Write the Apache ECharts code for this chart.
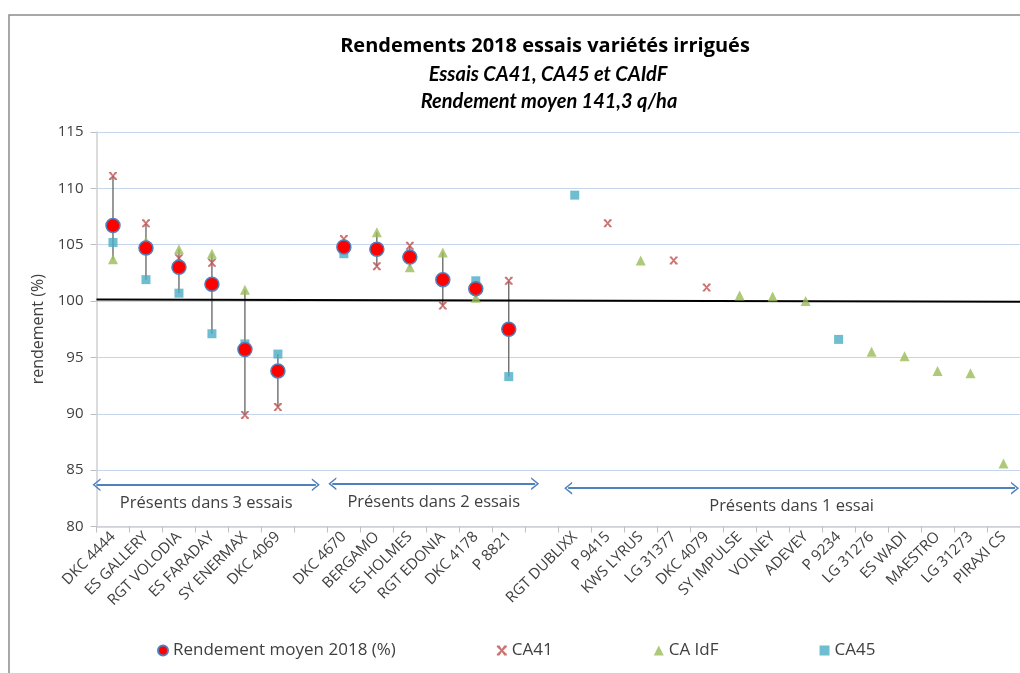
<!DOCTYPE html>
<html>
<head>
<meta charset="utf-8">
<script src="https://cdn.jsdelivr.net/npm/echarts@6/dist/echarts.min.js"></script>
<style>
  html, body { margin: 0; padding: 0; background: #fff; }
  #chart { width: 1020px; height: 673px; }
</style>
</head>
<body>
<div id="chart"></div>
<script>
// variétés (cases vides = séparation entre groupes)
var varietes = ['DKC 4444', 'ES GALLERY', 'RGT VOLODIA', 'ES FARADAY', 'SY ENERMAX', 'DKC 4069', '',
  'DKC 4670', 'BERGAMO', 'ES HOLMES', 'RGT EDONIA', 'DKC 4178', 'P 8821', '',
  'RGT DUBLIXX', 'P 9415', 'KWS LYRUS', 'LG 31377', 'DKC 4079', 'SY IMPULSE', 'VOLNEY', 'ADEVEY',
  'P 9234', 'LG 31276', 'ES WADI', 'MAESTRO', 'LG 31273', 'PIRAXI CS'];

var moyenne = [106.7, 104.7, 103.0, 101.5, 95.7, 93.8, null,
  104.8, 104.6, 103.9, 101.9, 101.1, 97.5, null,
  null, null, null, null, null, null, null, null, null, null, null, null, null, null];

var ca41 = [111.1, 106.9, 103.8, 103.4, 89.9, 90.6, null,
  105.5, 103.1, 104.9, 99.6, null, 101.8, null,
  null, 106.9, null, 103.6, 101.2, null, null, null, null, null, null, null, null, null];

var caIdf = [103.7, 105.3, 104.6, 104.2, 101.0, null, null,
  null, 106.1, 103.0, 104.3, 100.3, null, null,
  null, null, 103.6, null, null, 100.5, 100.4, 100.0, null, 95.5, 95.1, 93.8, 93.6, 85.6];

var ca45 = [105.2, 101.9, 100.7, 97.1, 96.2, 95.3, null,
  104.2, null, null, null, 101.8, 93.3, null,
  109.4, null, null, null, null, null, null, null, 96.6, null, null, null, null, null];

// droite de référence (100 %), en unités de cases
var droiteRef = [[0, 100.15], [28, 99.95]];

// flèches des groupes
var groupes = ['Présents dans 3 essais', 'Présents dans 2 essais', 'Présents dans 1 essai'];
var groupesDebut = [0, 7.15, 14.3];
var groupesFin = [6.65, 13.3, 27.85];
var groupesY = [83.7, 83.8, 83.4];

var police = '"Open Sans", sans-serif';
var gris = '#404040';

// barres min-max des essais
var barres = [];
moyenne.forEach(function (m, i) {
  if (m == null) return;
  var vals = [ca41[i], caIdf[i], ca45[i], m].filter(function (v) { return v != null; });
  barres.push([i, Math.min.apply(null, vals), Math.max.apply(null, vals)]);
});

var fleches = groupes.map(function (g, i) {
  return [
    { coord: [groupesDebut[i], groupesY[i]], name: g },
    { coord: [groupesFin[i], groupesY[i]] }
  ];
});

var chevron = 'path://M0,10 L5,0 L10,10 L8.6,10 L5,2.8 L1.4,10 Z';
var croix = 'path://M0,0 L2.6,0 L5,3.4 L7.4,0 L10,0 L10,1.4 L6.3,5 L10,8.6 L10,10 L7.4,10 L5,6.6 L2.6,10 L0,10 L0,8.6 L3.7,5 L0,1.4 Z';

var chart = echarts.init(document.getElementById('chart'));
chart.setOption({
  animation: false,
  backgroundColor: '#fff',
  title: [
    { text: 'Rendements 2018 essais variétés irrigués', left: 540, top: 31, textAlign: 'center',
      textStyle: { fontFamily: police, fontSize: 20, fontWeight: 'bold', color: '#000' } },
    { text: 'Essais CA41, CA45 et CAIdF', left: 543, top: 60, textAlign: 'center',
      textStyle: { fontFamily: 'Lato, sans-serif', fontSize: 20, fontWeight: 'bold', fontStyle: 'italic', color: '#000' } },
    { text: 'Rendement moyen 141,3 q/ha', left: 544, top: 87, textAlign: 'center',
      textStyle: { fontFamily: 'Lato, sans-serif', fontSize: 20, fontWeight: 'bold', fontStyle: 'italic', color: '#000' } }
  ],
  graphic: [
    { type: 'rect', shape: { x: 9, y: 15, width: 1100, height: 700 },
      style: { fill: 'none', stroke: '#8c8c8c', lineWidth: 1.5 }, silent: true }
  ],
  legend: {
    data: ['Rendement moyen 2018 (%)', 'CA41', 'CA IdF', 'CA45'],
    left: 152, top: 637,
    itemWidth: 10, itemHeight: 10, itemGap: 101,
    textStyle: { fontFamily: police, fontSize: 17, color: gris }
  },
  grid: { left: 96.5, right: -6, top: 132, bottom: 146.5 },
  xAxis: [
    {
      type: 'category',
      data: varietes,
      boundaryGap: true,
      axisLine: { lineStyle: { color: '#d0d0d0', width: 1.5 } },
      axisTick: { show: true, interval: 0, length: 6, lineStyle: { color: '#bfbfbf' } },
      axisLabel: { interval: 0, rotate: 45, margin: 8, fontFamily: police, fontSize: 15, color: gris },
      splitLine: { show: false }
    },
    { type: 'value', min: 0, max: 28, show: false }
  ],
  yAxis: {
    type: 'value',
    min: 80, max: 115, interval: 5,
    name: 'rendement (%)',
    nameLocation: 'middle',
    nameGap: 50,
    nameTextStyle: { fontFamily: police, fontSize: 16, color: gris },
    axisLine: { show: true, lineStyle: { color: '#d0d0d0', width: 1.5 } },
    axisTick: { show: true, length: 6, lineStyle: { color: '#bfbfbf' } },
    axisLabel: { margin: 13, fontFamily: police, fontSize: 15, color: gris },
    splitLine: { lineStyle: { color: '#c5d5ec', width: 1.2 } }
  },
  series: [
    {
      name: 'barres', type: 'custom', silent: true, z: 1,
      data: barres,
      encode: { x: 0, y: [1, 2] },
      renderItem: function (params, api) {
        var x = api.value(0);
        var p1 = api.coord([x, api.value(1)]);
        var p2 = api.coord([x, api.value(2)]);
        return { type: 'line', shape: { x1: p1[0], y1: p1[1], x2: p2[0], y2: p2[1] },
          style: { stroke: '#555', lineWidth: 1.2 } };
      }
    },
    {
      name: 'ref', type: 'line', xAxisIndex: 1, silent: true, z: 2,
      data: droiteRef, symbol: 'none',
      lineStyle: { color: '#000', width: 2 },
      markLine: {
        silent: true,
        symbol: [chevron, chevron],
        symbolSize: [13, 8],
        lineStyle: { color: '#4f81bd', width: 2, type: 'solid' },
        label: { show: true, position: 'insideMiddleBottom', distance: 10, formatter: '{b}',
          fontFamily: police, fontSize: 16.5, color: gris },
        emphasis: { disabled: true },
        data: fleches
      }
    },
    {
      name: 'CA41', type: 'scatter', z: 3, data: ca41,
      symbol: croix, symbolSize: 8,
      itemStyle: { color: '#c0504d' }
    },
    {
      name: 'CA IdF', type: 'scatter', z: 3, data: caIdf,
      symbol: 'triangle', symbolSize: 10,
      itemStyle: { color: '#9bbb59' }
    },
    {
      name: 'CA45', type: 'scatter', z: 3, data: ca45,
      symbol: 'rect', symbolSize: 9,
      itemStyle: { color: '#4bacc6' }
    },
    {
      name: 'Rendement moyen 2018 (%)', type: 'scatter', z: 4, data: moyenne,
      symbol: 'circle', symbolSize: 14,
      itemStyle: { color: '#ff0000', borderColor: '#4f81bd', borderWidth: 1.5, opacity: 1 }
    }
  ]
});
</script>
</body>
</html>
